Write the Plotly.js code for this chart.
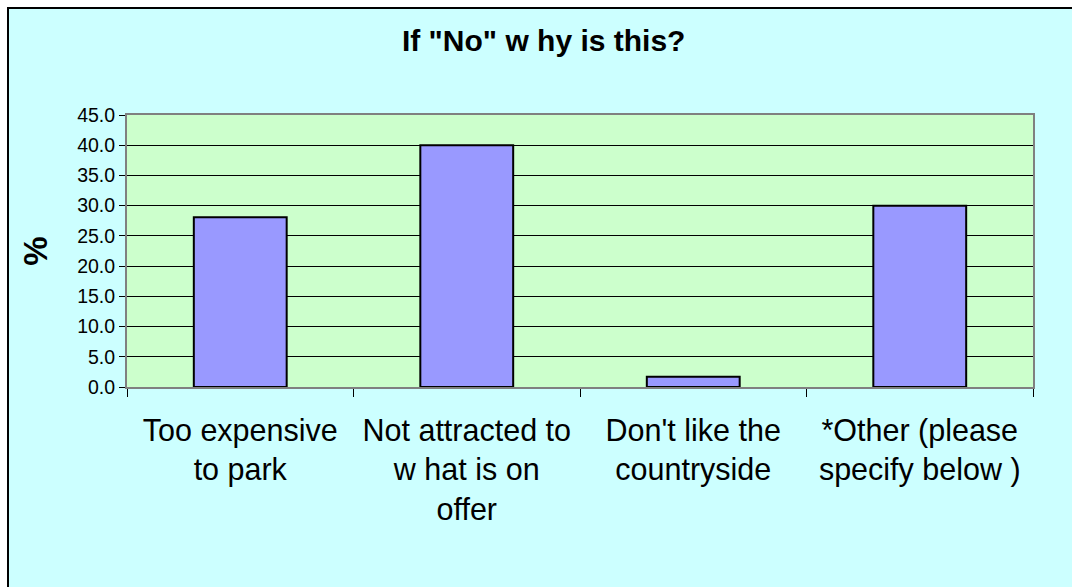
<!DOCTYPE html>
<html>
<head>
<meta charset="utf-8">
<script src="https://cdn.plot.ly/plotly-3.0.1.min.js"></script>
<style>
  html, body { margin: 0; padding: 0; background: #ffffff; overflow: hidden; }
  #frame { position: absolute; left: 7px; top: 7px; width: 1065px; height: 580px;
           border-left: 2px solid #000; border-top: 2px solid #000; background: #CCFFFF; }
  #chart { position: absolute; left: 0; top: 0; width: 1063px; height: 578px; }
</style>
</head>
<body>
<div id="frame"><div id="chart"></div></div>
<script>
const chartTitle = 'If "No" w hy is this?';
const categories = [
  'Too expensive<br>to park',
  'Not attracted to<br>w hat is on<br>offer',
  "Don't like the<br>countryside",
  '*Other (please<br>specify below )'
];
const values = [28.1, 40.0, 1.7, 30.0];
const yTitle = '%';

const trace = {
  type: 'bar',
  x: categories,
  y: values,
  marker: { color: '#9999FF', line: { color: '#000000', width: 2 } },
  hoverinfo: 'x+y'
};

const layout = {
  width: 1063, height: 578,
  margin: { l: 118, r: 39, t: 106, b: 200 },
  paper_bgcolor: '#CCFFFF',
  plot_bgcolor: '#CCFFCC',
  showlegend: false,
  bargap: 0.59,
  font: { family: '"Liberation Sans", Arial, sans-serif', color: '#000000' },
  title: {
    text: '<b>' + chartTitle + '</b>',
    font: { size: 30, family: '"Liberation Sans", Arial, sans-serif', color: '#000' },
    xref: 'container', yref: 'container', x: 0.503, y: 0.945,
    xanchor: 'center', yanchor: 'middle'
  },
  xaxis: {
    type: 'category',
    tickson: 'boundaries',
    ticks: 'outside', ticklen: 8, tickcolor: '#000', tickwidth: 1,
    showgrid: false,
    showline: true, linecolor: '#808080', linewidth: 2, mirror: true,
    tickfont: { size: 30.5 },
    ticklabelstandoff: 15,
    automargin: false
  },
  yaxis: {
    range: [0, 45], dtick: 5, tick0: 0, tickformat: '.1f',
    ticks: 'outside', ticklen: 6, tickcolor: '#000', tickwidth: 1,
    showgrid: true, gridcolor: '#000000', gridwidth: 1,
    zeroline: false,
    showline: true, linecolor: '#808080', linewidth: 2, mirror: true,
    tickfont: { size: 19.5 },
    title: { text: '<b>' + yTitle + '</b>', font: { size: 33 }, standoff: 20 },
    automargin: false
  }
};

Plotly.newPlot('chart', [trace], layout, { displayModeBar: false, staticPlot: true });
</script>
</body>
</html>
